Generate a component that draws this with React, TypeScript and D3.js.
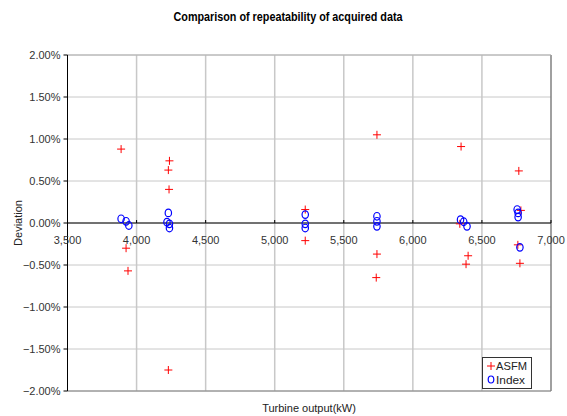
import React from "react";
import * as d3 from "d3";

const xTicks = [3500, 4000, 4500, 5000, 5500, 6000, 6500, 7000];
const yTicks = [-0.02, -0.015, -0.01, -0.005, 0, 0.005, 0.01, 0.015, 0.02];

const asfmX = [3888, 3924, 3938, 4230, 4238, 4235, 4230, 5221, 5221, 5740, 5740, 5735, 6349, 6340, 6400, 6385, 6767, 6782, 6760, 6775];
const asfmY = [0.88, -0.30, -0.57, 0.63, 0.74, 0.40, -1.75, 0.16, -0.21, 1.05, -0.37, -0.65, 0.91, -0.01, -0.39, -0.49, 0.62, 0.15, -0.26, -0.48];

const indexX = [3888, 3924, 3944, 4230, 4220, 4238, 4238, 5221, 5221, 5221, 5740, 5740, 5740, 6345, 6368, 6392, 6755, 6762, 6762, 6775];
const indexY = [0.05, 0.02, -0.03, 0.12, 0.01, -0.01, -0.06, 0.10, -0.01, -0.06, 0.08, 0.02, -0.04, 0.04, 0.015, -0.04, 0.16, 0.12, 0.07, -0.29];

const W = 567, H = 416;
const left = 67.5, right = 551, top = 55, bottom = 391;

export default function App() {
  const x = d3.scaleLinear().domain([3500, 7000]).range([left, right]);
  const y = d3.scaleLinear().domain([-0.02, 0.02]).range([bottom, top]);
  const fmtX = d3.format(",");
  const fmtY = (v: number) => d3.format(".2f")(v * 100).replace("-", "\u2212") + "%";
  const font = "'Liberation Sans', Arial, sans-serif";
  const y0 = y(0);
  return (
    <svg width={W} height={H} style={{ position: "absolute", left: 0, top: 0, background: "#fff" }}>
      <text x={288} y={21} textAnchor="middle" fontFamily={font} fontSize={12} fontWeight="bold"
        textLength={229} lengthAdjust="spacingAndGlyphs" fill="#000">
        Comparison of repeatability of acquired data
      </text>
      {/* gridlines */}
      {yTicks.map((t) => (
        <line key={"gy" + t} x1={left} x2={right} y1={y(t)} y2={y(t)} stroke="#c8c8c8" strokeWidth={1} />
      ))}
      {xTicks.slice(1, -1).map((t) => (
        <line key={"gx" + t} x1={x(t)} x2={x(t)} y1={top} y2={bottom} stroke="#c8c8c8" strokeWidth={1.5} />
      ))}
      {/* border */}
      <line x1={right} x2={right} y1={top} y2={bottom} stroke="#808080" strokeWidth={1.5} />
      <line x1={left} x2={right} y1={bottom} y2={bottom} stroke="#808080" strokeWidth={1} />
      <line x1={left} x2={right} y1={top} y2={top} stroke="#b0b0b0" strokeWidth={1} />
      {/* left axis */}
      <line x1={left} x2={left} y1={top} y2={bottom} stroke="#000" strokeWidth={1} />
      {yTicks.map((t) => (
        <g key={"ty" + t}>
          <line x1={left - 4} x2={left} y1={y(t)} y2={y(t)} stroke="#000" />
          <text x={left - 7} y={y(t) + 4} textAnchor="end" fontFamily={font} fontSize={11} fill="#333">
            {fmtY(t)}
          </text>
        </g>
      ))}
      {/* zero line with ticks */}
      <line x1={left} x2={right} y1={y0} y2={y0} stroke="#000" strokeWidth={1} />
      {xTicks.map((t) => (
        <g key={"tx" + t}>
          <line x1={x(t)} x2={x(t)} y1={y0 - 3} y2={y0} stroke="#000" />
          <text x={x(t)} y={y0 + 21} textAnchor="middle" fontFamily={font} fontSize={11} fill="#333">
            {fmtX(t)}
          </text>
        </g>
      ))}
      {/* axis titles */}
      <text x={309} y={412} textAnchor="middle" fontFamily={font} fontSize={11} fill="#222">Turbine output(kW)</text>
      <text transform={`translate(22,${y0}) rotate(-90)`} textAnchor="middle" fontFamily={font} fontSize={11} fill="#222">Deviation</text>
      {/* ASFM */}
      {asfmX.map((v, i) => (
        <path key={"a" + i} d={`M${x(v) - 4},${y(asfmY[i] / 100)}h8M${x(v)},${y(asfmY[i] / 100) - 4}v8`}
          stroke="#ff0000" strokeWidth={1} fill="none" />
      ))}
      {/* Index */}
      {indexX.map((v, i) => (
        <ellipse key={"b" + i} cx={x(v)} cy={y(indexY[i] / 100)} rx={3.2} ry={3.8}
          stroke="#0000ff" strokeWidth={1.2} fill="none" />
      ))}
      {/* legend */}
      <rect x={482.5} y={357.5} width={49} height={31} fill="#fff" stroke="#333" strokeWidth={1} />
      <path d="M487,366h8M491,362v8" stroke="#ff0000" strokeWidth={1} />
      <text x={496} y={370} fontFamily={font} fontSize={10.5} fill="#222" textLength={31} lengthAdjust="spacingAndGlyphs">ASFM</text>
      <ellipse cx={491} cy={379.5} rx={2.8} ry={3.5} stroke="#0000ff" strokeWidth={1.2} fill="none" />
      <text x={496} y={383.5} fontFamily={font} fontSize={10.5} fill="#222" textLength={29} lengthAdjust="spacingAndGlyphs">Index</text>
    </svg>
  );
}
